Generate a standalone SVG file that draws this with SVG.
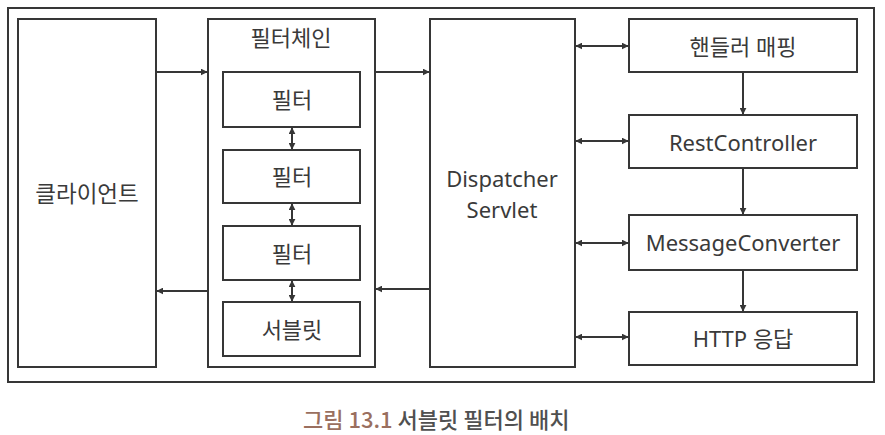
<svg xmlns="http://www.w3.org/2000/svg" width="885" height="435" viewBox="0 0 885 435">
<style>
.box{fill:#fff;stroke:#363636;stroke-width:2}
.ln{fill:none;stroke:#363636;stroke-width:2}
.t{font-family:"Noto Sans","Noto Sans CJK KR",sans-serif;font-size:22px;fill:#3a3a3a;text-anchor:middle;dominant-baseline:central}
.cap{font-family:"Noto Sans CJK KR","Noto Sans",sans-serif;font-size:22px;font-weight:500;dominant-baseline:alphabetic}
</style>
<defs>
<marker id="ah" viewBox="0 0 10 10" refX="9" refY="5" markerWidth="3.5" markerHeight="3.5" orient="auto-start-reverse" markerUnits="strokeWidth">
<path d="M0,0 L10,5 L0,10 z" fill="#363636"/>
</marker>
</defs>
<rect x="0" y="0" width="885" height="435" fill="#fff"/>
<rect id="frame" class="box" x="8" y="8" width="866" height="374"/>
<g id="client"><rect class="box" x="18" y="19" width="138" height="348"/><text class="t" x="87" y="193" style="font-size:22.5px">클라이언트</text></g>
<g id="filterchain"><rect class="box" x="208" y="19" width="167" height="348"/><text class="t" x="291" y="37">필터체인</text></g>
<g id="filter1"><rect class="box" x="223" y="72" width="137" height="55"/><text class="t" x="292" y="99">필터</text></g>
<g id="filter2"><rect class="box" x="223" y="150" width="137" height="53"/><text class="t" x="292" y="176">필터</text></g>
<g id="filter3"><rect class="box" x="223" y="226" width="137" height="54"/><text class="t" x="292" y="253">필터</text></g>
<g id="servlet"><rect class="box" x="223" y="302" width="137" height="54"/><text class="t" x="292" y="329">서블릿</text></g>
<g id="dispatcher"><rect class="box" x="430" y="19" width="145" height="348"/><text class="t" x="502" y="178">Dispatcher</text><text class="t" x="502" y="209">Servlet</text></g>
<g id="handlermapping"><rect class="box" x="629" y="19" width="228" height="53"/><text class="t" x="743" y="46">핸들러 매핑</text></g>
<g id="restcontroller"><rect class="box" x="629" y="115" width="228" height="53"/><text class="t" x="743" y="142">RestController</text></g>
<g id="messageconverter"><rect class="box" x="629" y="215" width="228" height="55"/><text class="t" x="743" y="242">MessageConverter</text></g>
<g id="httpresponse"><rect class="box" x="629" y="312" width="228" height="53"/><text class="t" x="743" y="338">HTTP 응답</text></g>
<g id="connectors">
<path class="ln" d="M156,72 H207" marker-end="url(#ah)"/>
<path class="ln" d="M375,72 H429" marker-end="url(#ah)"/>
<path class="ln" d="M430,289 H376" marker-end="url(#ah)"/>
<path class="ln" d="M208,291 H157" marker-end="url(#ah)"/>
<path class="ln" d="M292,128 V149" marker-start="url(#ah)" marker-end="url(#ah)"/>
<path class="ln" d="M292,204 V225" marker-start="url(#ah)" marker-end="url(#ah)"/>
<path class="ln" d="M292,281 V301" marker-start="url(#ah)" marker-end="url(#ah)"/>
<path class="ln" d="M576,46 H628" marker-start="url(#ah)" marker-end="url(#ah)"/>
<path class="ln" d="M576,141 H628" marker-start="url(#ah)" marker-end="url(#ah)"/>
<path class="ln" d="M576,243 H628" marker-start="url(#ah)" marker-end="url(#ah)"/>
<path class="ln" d="M576,337 H628" marker-start="url(#ah)" marker-end="url(#ah)"/>
<path class="ln" d="M743,72 V114" marker-end="url(#ah)"/>
<path class="ln" d="M743,168 V214" marker-end="url(#ah)"/>
<path class="ln" d="M743,270 V311" marker-end="url(#ah)"/>
</g>
<text class="cap" x="303" y="428"><tspan fill="#9a6f5f">그림 13.1</tspan><tspan fill="#505050"> 서블릿 필터의 배치</tspan></text>
</svg>
